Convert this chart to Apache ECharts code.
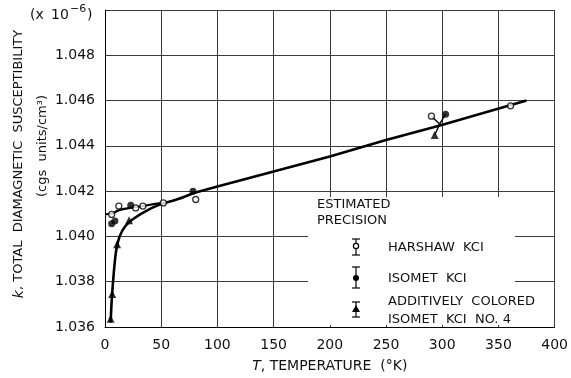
<!DOCTYPE html>
<html>
<head>
<meta charset="utf-8">
<script src="https://cdn.jsdelivr.net/npm/echarts@6/dist/echarts.min.js"></script>
<style>
  html, body { margin: 0; padding: 0; background: #fff; }
  #main { width: 571px; height: 378px; }
</style>
</head>
<body>
<div id="main"></div>
<script>
// measured points, T in K, k in 10^-6 cgs/cm3
var harshawT = [5.9, 12.3, 27.3, 33.7, 51.9, 80.7, 290.4, 360.8]
var harshawK = [1.04097, 1.04134, 1.04126, 1.04134, 1.04148, 1.04163, 1.04531, 1.04577]

var isometT = [5.9, 8.8, 22.9, 78.3, 303]
var isometK = [1.04056, 1.04068, 1.04138, 1.042, 1.0454]

var coloredT = [5.0, 6.4, 10.8, 21.4, 293.3]
var coloredK = [1.03636, 1.03746, 1.03965, 1.04072, 1.04448]

// drawn curves
var upperT = [0, 6, 12, 20, 30, 40, 52]
var upperK = [1.04098, 1.041, 1.04115, 1.04124, 1.04131, 1.0414, 1.04148]
var lowerT = [5, 6, 8, 10, 13, 18, 25, 40, 52, 65, 79]
var lowerK = [1.0362, 1.0372, 1.0385, 1.0394, 1.04, 1.04045, 1.04077, 1.04122, 1.04146, 1.04165, 1.04192]
var mainT = [79, 100, 150, 200, 250, 298, 375]
var mainK = [1.04192, 1.04221, 1.04287, 1.04353, 1.04426, 1.0449, 1.046]

// center of the little cross at room temperature
var crossT = 297.7
var crossK = 1.04496

var xTicks = [0, 50, 100, 150, 200, 250, 300, 350, 400]

var zip = function (a, b) {
  return a.map(function (v, i) { return [v, b[i]] })
}

var chartDom = document.getElementById('main')
var myChart = echarts.init(chartDom)

var font = 'DejaVu Sans'
var ink = '#111'
var spokes = []
;[[harshawT[6], harshawK[6]], [isometT[4], isometK[4]], [coloredT[4], coloredK[4]]].forEach(function (p) {
  spokes.push({
    type: 'line',
    data: [[crossT, crossK], p],
    symbol: 'none',
    lineStyle: { color: '#000', width: 1.4 },
    z: 3,
  })
})

// legend text helper
var label = function (x, y, s) {
  return { type: 'text', x: x, y: y, z: 5,
    style: { text: s, font: '13px "DejaVu Sans"', fill: ink, verticalAlign: 'middle' } }
}
var seg = function (pts) {
  return { type: 'polyline', z: 5, shape: { points: pts }, style: { stroke: '#000', lineWidth: 1.2 } }
}

var option = {
  animation: false,
  backgroundColor: '#fff',
  textStyle: { fontFamily: font },
  grid: { left: 105, right: 12, top: 10, bottom: 48 },
  xAxis: {
    type: 'value',
    min: xTicks[0],
    max: xTicks[xTicks.length - 1],
    interval: 50,
    axisLine: { lineStyle: { color: '#000', width: 1 } },
    axisTick: { show: false },
    axisLabel: { color: ink, fontSize: 14, fontFamily: font, margin: 11 },
    splitLine: { show: true, lineStyle: { color: '#3a3a3a', width: 1 } },
    name: '{i|T}, TEMPERATURE  (°K)',
    nameLocation: 'middle',
    nameGap: 32,
    nameTextStyle: {
      color: ink, fontSize: 14, fontFamily: font,
      rich: { i: { fontStyle: 'italic', fontSize: 14, fontFamily: font, color: ink } },
    },
  },
  yAxis: {
    type: 'value',
    min: 1.036,
    max: 1.05,
    interval: 0.002,
    axisLine: { show: true, lineStyle: { color: '#000', width: 1 } },
    axisTick: { show: false },
    axisLabel: {
      color: ink, fontSize: 14, fontFamily: font, margin: 10,
      showMaxLabel: false,
      formatter: function (v) { return v.toFixed(3) },
    },
    splitLine: { show: true, lineStyle: { color: '#3a3a3a', width: 1 } },
  },
  graphic: [
    // white patch behind the legend
    { type: 'rect', z: 1, shape: { x: 308, y: 197, width: 207, height: 128 }, style: { fill: '#fff' } },
    // unit multiplier
    { type: 'text', x: 30, y: 15, z: 5, style: { text: '(x', font: '14px "DejaVu Sans"', fill: ink, verticalAlign: 'middle' } },
    { type: 'text', x: 51, y: 15, z: 5, style: { text: '10', font: '14px "DejaVu Sans"', fill: ink, verticalAlign: 'middle' } },
    { type: 'text', x: 70, y: 9, z: 5, style: { text: '−6', font: '11px "DejaVu Sans"', fill: ink, verticalAlign: 'middle' } },
    { type: 'text', x: 87, y: 15, z: 5, style: { text: ')', font: '14px "DejaVu Sans"', fill: ink, verticalAlign: 'middle' } },
    { type: 'text', x: 19, y: 164, rotation: Math.PI / 2, z: 5,
      style: {
        text: '{i|k}, TOTAL  DIAMAGNETIC  SUSCEPTIBILITY',
        font: '13px "DejaVu Sans"', fill: ink, align: 'center', verticalAlign: 'middle',
        rich: { i: { fontStyle: 'italic', fontSize: 14, fontFamily: font, fill: ink } },
      } },
    { type: 'text', x: 43, y: 146, rotation: Math.PI / 2, z: 5,
      style: { text: '(cgs  units/cm³)', font: '13px "DejaVu Sans"', fill: ink, align: 'center', verticalAlign: 'middle' } },
    // legend
    label(317, 205, 'ESTIMATED'),
    label(317, 221, 'PRECISION'),
    label(388, 248, 'HARSHAW  KCI'),
    label(388, 279, 'ISOMET  KCI'),
    label(388, 302, 'ADDITIVELY  COLORED'),
    label(388, 320, 'ISOMET  KCI  NO. 4'),
    // precision bars
    seg([[356, 239], [356, 255]]), seg([[352, 239], [360, 239]]), seg([[352, 255], [360, 255]]),
    { type: 'circle', z: 6, shape: { cx: 356, cy: 246, r: 2.6 }, style: { fill: '#fff', stroke: '#000', lineWidth: 1.2 } },
    seg([[356, 267], [356, 288]]), seg([[352, 267], [360, 267]]), seg([[352, 288], [360, 288]]),
    { type: 'circle', z: 6, shape: { cx: 356, cy: 278, r: 3 }, style: { fill: '#000' } },
    seg([[356, 302], [356, 317]]), seg([[352, 302], [360, 302]]), seg([[352, 317], [360, 317]]),
    { type: 'polygon', z: 6, shape: { points: [[356, 305], [352, 312], [360, 312]] }, style: { fill: '#000' } },
  ],
  series: [
    {
      name: 'upper', type: 'line', data: zip(upperT, upperK), symbol: 'none', smooth: 0.3,
      lineStyle: { color: '#000', width: 2.2 }, z: 2,
    },
    {
      name: 'lower', type: 'line', data: zip(lowerT, lowerK), symbol: 'none', smooth: 0.3,
      lineStyle: { color: '#000', width: 2.6 }, z: 2,
    },
    {
      name: 'main', type: 'line', data: zip(mainT, mainK), symbol: 'none',
      lineStyle: { color: '#000', width: 2.6 }, z: 2,
    },
  ].concat(spokes).concat([
    {
      name: 'HARSHAW KCl', type: 'scatter', data: zip(harshawT, harshawK),
      symbol: 'circle', symbolSize: 6,
      itemStyle: { color: '#fff', borderColor: '#000', borderWidth: 1.3 }, z: 4,
    },
    {
      name: 'ISOMET KCl', type: 'scatter', data: zip(isometT, isometK),
      symbol: 'circle', symbolSize: 7,
      itemStyle: { color: '#000' }, z: 4,
    },
    {
      name: 'ADDITIVELY COLORED ISOMET KCl NO. 4', type: 'scatter', data: zip(coloredT, coloredK),
      symbol: 'triangle', symbolSize: 8,
      itemStyle: { color: '#000' }, z: 4,
    },
  ]),
}

option && myChart.setOption(option)
</script>
</body>
</html>
